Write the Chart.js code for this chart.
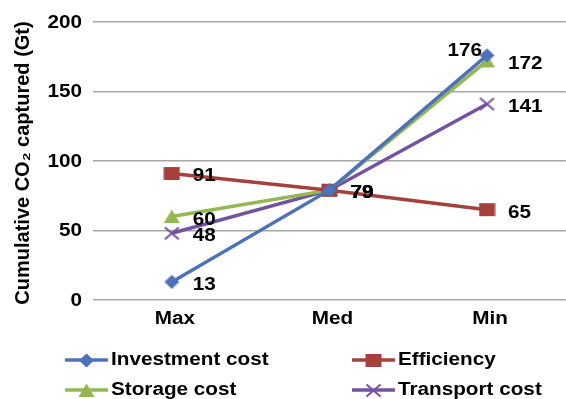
<!DOCTYPE html>
<html>
<head>
<meta charset="utf-8">
<script src="https://cdn.jsdelivr.net/npm/chart.js@4.4.1/dist/chart.umd.min.js"></script>
<style>
    html, body { margin: 0; padding: 0; background: #ffffff; }
    #wrap { width: 566px; height: 399px; position: relative; }
</style>
</head>
<body>
<div id="wrap"><canvas id="co2Chart" width="566" height="399"></canvas></div>
<script>
"use strict";

// Categorieën en waarden.
const categorieen = ["Max", "Med", "Min"];
const investeringKosten = [13, 79, 176];
const efficientie = [91, 79, 65];
const opslagKosten = [60, 79, 172];
const transportKosten = [48, 79, 141];
const yTicks = [0, 50, 100, 150, 200];
const asTitel = "Cumulative CO\u2082 captured (Gt)";

const lettertype = "'Liberation Sans', Arial, sans-serif";
// De tekst in het origineel is iets breder uitgerekt.
const rek = 1.15;

// Schrijf tekst met een kleine horizontale rek.
function schrijf(ctx, tekst, x, y, uitlijning) {
    ctx.save();
    ctx.translate(x, y);
    ctx.scale(rek, 1);
    ctx.textAlign = uitlijning;
    ctx.fillText(tekst, 0, 0);
    ctx.restore();
}

// Maak een klein canvas met het merkteken voor een serie.
function maakMerk(vorm, kleur) {
    const c = document.createElement("canvas");
    const b = 17, h = 15;
    c.width = b;
    c.height = h;
    const g = c.getContext("2d");
    g.fillStyle = kleur;
    g.strokeStyle = kleur;
    if (vorm === "ruit") {
        g.beginPath();
        g.moveTo(b / 2, 0.5);
        g.lineTo(b / 2 + 7.5, h / 2);
        g.lineTo(b / 2, h - 0.5);
        g.lineTo(b / 2 - 7.5, h / 2);
        g.closePath();
        g.fill();
    } else if (vorm === "vierkant") {
        g.fillRect(0.5, 1, 16, 13);
    } else if (vorm === "driehoek") {
        g.beginPath();
        g.moveTo(b / 2, 0.5);
        g.lineTo(b - 0.5, h - 1);
        g.lineTo(0.5, h - 1);
        g.closePath();
        g.fill();
    } else {
        g.lineWidth = 2;
        g.beginPath();
        g.moveTo(1.5, 1.5);
        g.lineTo(b - 1.5, h - 1.5);
        g.moveTo(b - 1.5, 1.5);
        g.lineTo(1.5, h - 1.5);
        g.stroke();
    }
    return c;
}

// Tekent de as-labels, de astitel en de waarde naast elk punt.
const tekstLaag = {
    id: "tekstLaag",
    afterDatasetsDraw(chart) {
        const ctx = chart.ctx;
        const yAs = chart.scales.y;
        const xAs = chart.scales.x;
        ctx.save();
        ctx.fillStyle = "#000000";
        ctx.font = "bold 18px " + lettertype;
        ctx.textBaseline = "middle";

        // y-as
        yTicks.forEach(v => {
            schrijf(ctx, String(v), 82, yAs.getPixelForValue(v) + 1, "right");
        });
        // x-as
        categorieen.forEach((c, i) => {
            schrijf(ctx, c, xAs.getPixelForValue(i) + 3, 319, "center");
        });

        // waarden bij de punten
        chart.data.datasets.forEach((ds, i) => {
            const meta = chart.getDatasetMeta(i);
            meta.data.forEach((punt, j) => {
                const waarde = String(ds.data[j]);
                if (i === 0 && j === 2) {
                    // 176 staat links boven het punt
                    schrijf(ctx, waarde, punt.x - 5, punt.y - 4, "right");
                } else {
                    schrijf(ctx, waarde, punt.x + 21, punt.y + 3, "left");
                }
            });
        });

        // astitel
        ctx.font = "bold 20px " + lettertype;
        ctx.textBaseline = "alphabetic";
        ctx.textAlign = "center";
        ctx.translate(29, 163);
        ctx.rotate(-Math.PI / 2);
        ctx.fillText(asTitel, 0, 0);
        ctx.restore();
    }
};

// Legenda in twee kolommen onder de grafiek.
const legendaTwee = {
    id: "legendaTwee",
    afterDraw(chart) {
        const ctx = chart.ctx;
        const kolomX = [65, 352];
        const rijY = [360, 390];
        ctx.save();
        ctx.font = "bold 18px " + lettertype;
        ctx.textBaseline = "middle";
        chart.data.datasets.forEach((ds, i) => {
            const x = kolomX[i % 2];
            const y = rijY[Math.floor(i / 2)];
            ctx.strokeStyle = ds.borderColor;
            ctx.lineWidth = 3.5;
            ctx.beginPath();
            ctx.moveTo(x, y);
            ctx.lineTo(x + 43, y);
            ctx.stroke();
            const merk = ds.pointStyle;
            ctx.drawImage(merk, Math.round(x + 21.5 - merk.width / 2), Math.round(y - merk.height / 2));
            ctx.fillStyle = "#000000";
            schrijf(ctx, ds.label, x + 46, y, "left");
        });
        ctx.restore();
    }
};

// De merktekens zijn plaatjes, dus de straal blijft klein zodat Chart.js geen extra rand houdt.
function maakSerie(label, data, kleur, vorm) {
    return {
        label: label,
        data: data,
        borderColor: kleur,
        backgroundColor: kleur,
        borderWidth: 3.5,
        pointStyle: maakMerk(vorm, kleur),
        pointRadius: 0.2,
        pointBorderWidth: 0,
        pointHoverRadius: 0.2,
        pointHoverBorderWidth: 0,
        tension: 0
    };
}

window.onload = function() {
    const ctx = document.getElementById("co2Chart").getContext("2d");
    new Chart(ctx, {
        type: "line",
        data: {
            labels: categorieen,
            datasets: [
                maakSerie("Investment cost", investeringKosten, "#4e72b9", "ruit"),
                maakSerie("Efficiency", efficientie, "#a5403c", "vierkant"),
                maakSerie("Storage cost", opslagKosten, "#93b851", "driehoek"),
                maakSerie("Transport cost", transportKosten, "#7352a0", "kruis")
            ]
        },
        options: {
            responsive: false,
            animation: false,
            devicePixelRatio: 1,
            layout: { padding: { top: 22, right: 0, bottom: 69, left: 0 } },
            plugins: {
                legend: { display: false },
                tooltip: { enabled: false }
            },
            scales: {
                x: {
                    offset: true,
                    grid: { display: false, drawTicks: false },
                    border: { display: false },
                    ticks: { display: false },
                    afterFit(schaal) { schaal.height = 30; }
                },
                y: {
                    min: 0,
                    max: 200,
                    afterBuildTicks(schaal) {
                        schaal.ticks = yTicks.map(v => ({ value: v }));
                    },
                    grid: { color: "#a6a6a6", lineWidth: 1.5, drawTicks: false },
                    border: { display: false },
                    ticks: { display: false },
                    afterFit(schaal) { schaal.width = 93; }
                }
            }
        },
        plugins: [tekstLaag, legendaTwee]
    });
};
</script>
</body>
</html>
